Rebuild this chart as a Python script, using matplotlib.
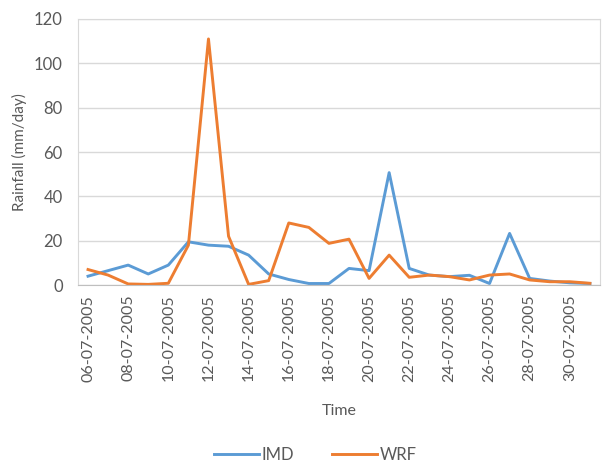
import numpy as np
import pandas as pd
import matplotlib
matplotlib.use('Agg')
import matplotlib.pyplot as plt

plt.rcParams['font.family'] = ['Lato', 'DejaVu Sans']

# Daily rainfall, 6 - 31 July 2005
dates = pd.date_range('2005-07-06', '2005-07-31', freq='D').strftime('%d-%m-%Y').tolist()
imd = [4, 6.5, 9, 5, 9, 19.5, 18, 17.5, 13.5, 5, 2.5, 0.7, 0.7, 7.5, 6.5, 50.7,
       7.5, 4.5, 3.8, 4.4, 0.7, 23.3, 3, 1.8, 1, 0.7]
wrf = [7, 4.5, 0.5, 0.3, 0.8, 18, 111, 22, 0.3, 2, 28, 26, 18.8, 20.7, 3, 13.5,
       3.5, 4.5, 3.8, 2.3, 4.5, 5, 2.3, 1.5, 1.5, 0.8]

grey = '#595959'
x = np.arange(len(dates))

fig = plt.figure(figsize=(6.06, 4.62), dpi=100)
ax = fig.add_axes([0.1287, 0.383, 0.8613, 0.5759])

ax.plot(x, imd, color='#5B9BD5', lw=2.1, label='IMD', solid_joinstyle='round')
ax.plot(x, wrf, color='#ED7D31', lw=2.1, label='WRF', solid_joinstyle='round')

ax.set_xlim(-0.5, len(dates) - 0.5)
ax.set_ylim(0, 120)
ax.set_yticks(np.arange(0, 121, 20))
ax.set_xticks(x[::2])
ax.set_xticklabels(dates[::2], rotation=90)
ax.tick_params(axis='both', length=0, colors=grey)
ax.tick_params(axis='x', labelsize=11.5, pad=7)
ax.tick_params(axis='y', labelsize=12, pad=11)
ax.grid(axis='y', color='#D9D9D9', lw=1)
ax.set_axisbelow(True)
for s in ax.spines.values():
    s.set_color('#D9D9D9')
ax.spines['bottom'].set_color('#BFBFBF')

ax.set_ylabel('Rainfall (mm/day)', color=grey, fontsize=11, labelpad=5)
ax.set_xlabel('Time', color=grey, fontsize=11.5, labelpad=16)

fig.legend(loc='lower center', ncol=2, frameon=False, fontsize=12,
           labelcolor=grey, handlelength=2.7, handletextpad=0.15,
           columnspacing=2.3, bbox_to_anchor=(0.52, -0.035))

fig.savefig('out.png', dpi=100, facecolor='white')
